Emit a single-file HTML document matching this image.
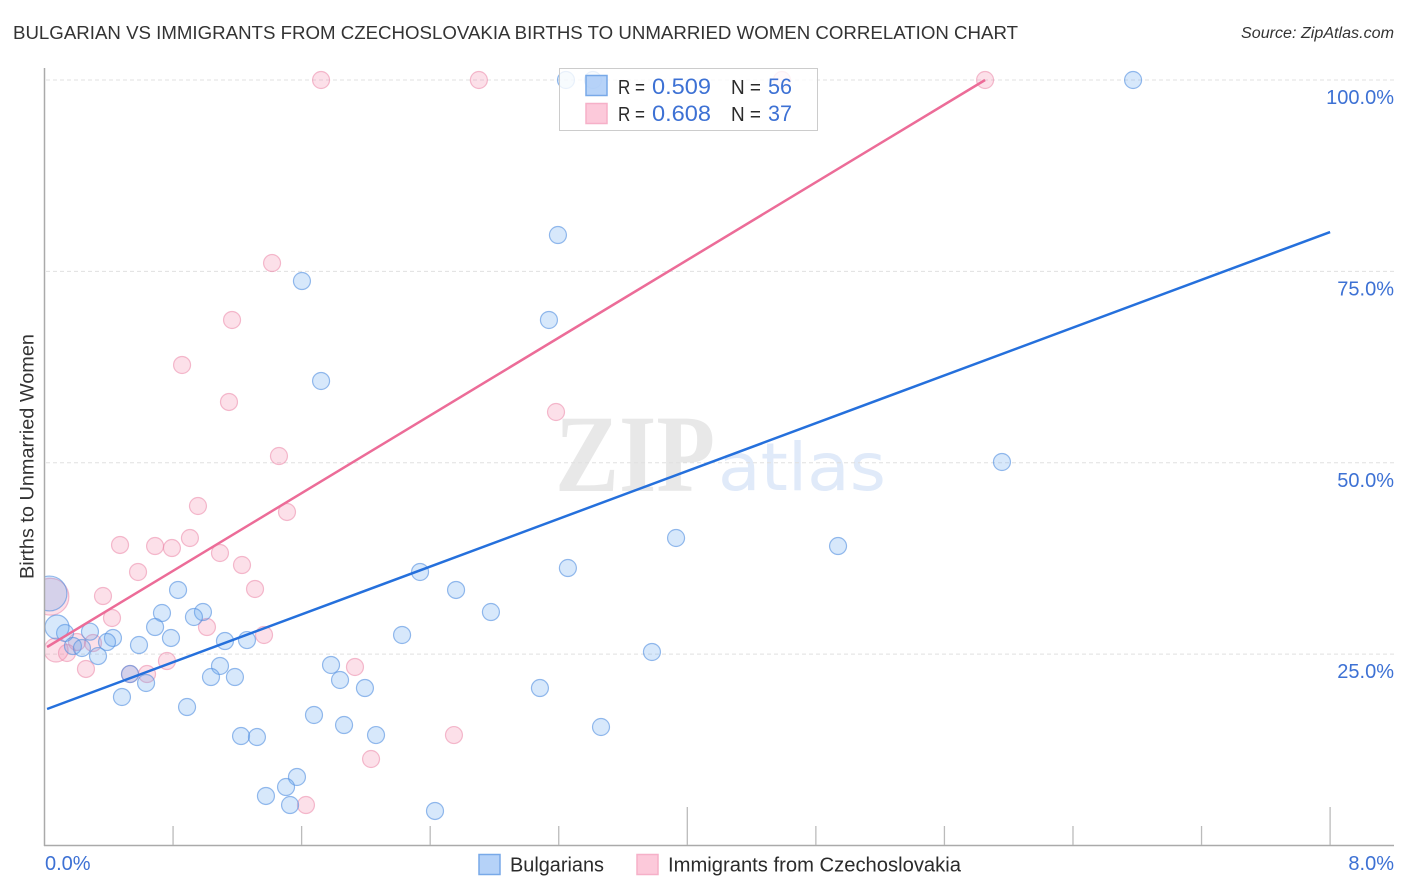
<!DOCTYPE html>
<html lang="en">
<head>
<meta charset="utf-8">
<title>Bulgarian vs Immigrants from Czechoslovakia Births to Unmarried Women Correlation Chart</title>
<style>
html,body{margin:0;padding:0;background:#fff;width:1406px;height:892px;overflow:hidden}
svg{display:block}
text{font-family:"Liberation Sans",sans-serif}
.tick{font-size:20px;fill:#3d71d4}
.leg{font-size:20px;fill:#2b2b2b}
.val{font-size:22px;fill:#3d71d4}
</style>
</head>
<body>
<svg id="chart" width="1406" height="892" viewBox="0 0 1406 892" xmlns="http://www.w3.org/2000/svg">
  <text x="13" y="39" font-size="18.5" fill="#333" textLength="1005" lengthAdjust="spacingAndGlyphs">BULGARIAN VS IMMIGRANTS FROM CZECHOSLOVAKIA BIRTHS TO UNMARRIED WOMEN CORRELATION CHART</text>
  <text x="1241" y="38" font-size="15.5" font-style="italic" fill="#333" textLength="153" lengthAdjust="spacingAndGlyphs">Source: ZipAtlas.com</text>
  <g>
    <text x="555" y="491" style="font-family:'Liberation Serif',serif;font-weight:bold" font-size="110" fill="#e8e8e8" textLength="160" lengthAdjust="spacingAndGlyphs">ZIP</text>
    <text x="718" y="490" style="font-family:'DejaVu Sans',sans-serif" font-size="66" fill="#e0eaf9" textLength="168" lengthAdjust="spacingAndGlyphs">atlas</text>
  </g>
  <g id="grid"></g>
  <svg id="points" x="45" y="60" width="1349" height="785" viewBox="45 60 1349 785" overflow="hidden"></svg>
  <g id="trends"></g>
  <g id="axes"></g>
  <text transform="translate(33.5,579) rotate(-90)" font-size="19" fill="#333" textLength="245" lengthAdjust="spacingAndGlyphs">Births to Unmarried Women</text>
  <g>
    <rect x="559.5" y="68.5" width="258" height="62" fill="#fff" fill-opacity="0.8" stroke="#ccc" stroke-width="1"/>
    <rect x="586" y="75.5" width="21" height="20" fill="#a5c8f6" fill-opacity="0.8" stroke="#78a9e8" stroke-width="1.5"/>
    <rect x="586" y="103.5" width="21" height="20" fill="#fcc9da" stroke="#f6b0c8" stroke-width="1.5"/>
    <text class="leg" x="618" y="94" textLength="27" lengthAdjust="spacingAndGlyphs">R =</text>
    <text class="val" x="652" y="94" textLength="59" lengthAdjust="spacingAndGlyphs">0.509</text>
    <text class="leg" x="731" y="94" textLength="30" lengthAdjust="spacingAndGlyphs">N =</text>
    <text class="val" x="768" y="94" textLength="24" lengthAdjust="spacingAndGlyphs">56</text>
    <text class="leg" x="618" y="121" textLength="27" lengthAdjust="spacingAndGlyphs">R =</text>
    <text class="val" x="652" y="121" textLength="59" lengthAdjust="spacingAndGlyphs">0.608</text>
    <text class="leg" x="731" y="121" textLength="30" lengthAdjust="spacingAndGlyphs">N =</text>
    <text class="val" x="768" y="121" textLength="24" lengthAdjust="spacingAndGlyphs">37</text>
  </g>
  <g>
    <rect x="479" y="854.5" width="21" height="20" fill="#b5d2f8" stroke="#78a9e8" stroke-width="1.5"/>
    <text x="510" y="871.5" font-size="20" fill="#2b2b2b" textLength="94" lengthAdjust="spacingAndGlyphs">Bulgarians</text>
    <rect x="637" y="854.5" width="21" height="20" fill="#fcc9da" stroke="#f6b0c8" stroke-width="1.5"/>
    <text x="668" y="871.5" font-size="20" fill="#2b2b2b" textLength="293" lengthAdjust="spacingAndGlyphs">Immigrants from Czechoslovakia</text>
  </g>
</svg>
<script>
// Data (percent units)
const bulgariansX = [3.245,3.413,6.774,3.195,1.602,3.139,1.721,5.958,3.930,4.938,3.257,2.337,2.561,0.831,2.778,0.731,0.986,0.930,0.688,2.225,0.787,0.426,0.389,1.123,1.260,0.588,3.780,0.128,0.078,0.283,0.177,0.233,0.333,1.783,1.092,1.036,1.185,1.839,0.532,0.632,1.994,3.083,0.482,0.887,1.677,1.864,3.463,2.063,1.223,1.322,1.571,1.503,1.378,1.528,2.430,0.031];
const bulgariansY = [100,100,100,79.75,73.74,68.65,60.68,50.10,40.17,39.12,36.25,35.73,33.38,33.38,30.50,30.37,30.50,29.85,28.54,27.50,27.11,27.11,26.58,26.71,26.84,26.19,25.28,27.76,28.54,27.93,26.06,25.80,24.75,23.58,23.45,22.01,22.01,21.62,22.40,21.23,20.57,20.57,19.40,18.09,17.05,15.74,15.48,14.43,14.30,14.17,8.95,7.64,6.47,5.29,4.51,32.92];
const bulgariansWeight = [1,1,1,1,1,1,1,1,1,1,1,1,1,1,1,1,1,1,1,1,1,1,1,1,1,1,1,1,2,1,1,1,1,1,1,1,1,1,1,1,1,1,1,1,1,1,1,1,1,1,1,1,1,1,1,4.2];
const immigrantsX = [1.721,2.703,4.589,5.853,1.416,1.167,0.856,1.148,3.183,1.459,0.955,1.509,0.905,0.470,0.688,0.793,1.092,1.229,0.582,1.310,0.364,0.420,1.011,1.366,0.302,0.202,0.072,0.140,0.258,0.762,1.932,0.532,0.638,2.548,2.032,1.627,0.037];
const immigrantsY = [100,100,100,100,76.09,68.65,62.77,57.94,56.63,50.88,44.35,43.57,40.17,39.26,39.12,38.86,38.21,36.64,35.73,33.51,32.59,29.72,28.54,27.50,26.45,26.58,25.54,25.15,23.06,24.10,23.32,22.40,22.40,14.43,11.30,5.29,32.50];
const immigrantsWeight = [1,1,1,1,1,1,1,1,1,1,1,1,1,1,1,1,1,1,1,1,1,1,1,1,1,1,2,1,1,1,1,1,1,1,1,1,4.7];
const bulgariansTrendX = [0.016,8];
const bulgariansTrendY = [17.83,80.14];
const immigrantsTrendX = [0.016,5.853];
const immigrantsTrendY = [25.93,100];
const yTickValues = [25,50,75,100];
const yTickLabels = ["25.0%","50.0%","75.0%","100.0%"];
const xTickValues = [0,0.8,1.6,2.4,3.2,4,4.8,5.6,6.4,7.2,8];
const xEndLabels = ["0.0%","8.0%"];

const NS = "http://www.w3.org/2000/svg";
const xScale = v => 44.5 + v * 160.7;
const yScale = v => 845.5 - v * 7.655;
const rScale = w => 8.5 * Math.sqrt(w);

function mk(parent, tag, attrs, txt) {
  const el = document.createElementNS(NS, tag);
  for (const k in attrs) el.setAttribute(k, attrs[k]);
  if (txt !== undefined) el.textContent = txt;
  parent.appendChild(el);
  return el;
}

const grid = document.getElementById("grid");
yTickValues.forEach(v => {
  const ln = mk(grid, "line", {x1: 46, x2: 1394, y1: yScale(v), y2: yScale(v), stroke: "#e0e0e0", "stroke-width": 1, "stroke-dasharray": "4 3"});
  
  
});

const points = document.getElementById("points");
function drawSeries(xs, ys, ws, fill, stroke, name) {
  xs.forEach((x, i) => {
    const c = mk(points, "circle", {cx: xScale(x), cy: yScale(ys[i]), r: rScale(ws[i]), fill: fill, stroke: stroke, "stroke-width": 1.2});
    
    
  });
}
drawSeries(immigrantsX, immigrantsY, immigrantsWeight, "rgba(245,140,175,0.27)", "rgba(235,135,168,0.55)", "immigrants-point");
drawSeries(bulgariansX, bulgariansY, bulgariansWeight, "rgba(100,165,240,0.26)", "rgba(85,145,225,0.62)", "bulgarians-point");

const trends = document.getElementById("trends");
const pinkLine = mk(trends, "line", {x1: xScale(immigrantsTrendX[0]), y1: yScale(immigrantsTrendY[0]), x2: xScale(immigrantsTrendX[1]), y2: yScale(immigrantsTrendY[1]), stroke: "#ec6c98", "stroke-width": 2.5});


const blueLine = mk(trends, "line", {x1: xScale(bulgariansTrendX[0]), y1: yScale(bulgariansTrendY[0]), x2: xScale(bulgariansTrendX[1]), y2: yScale(bulgariansTrendY[1]), stroke: "#2570dc", "stroke-width": 2.5});



const axes = document.getElementById("axes");
const yAxis = mk(axes, "line", {x1: 44.5, x2: 44.5, y1: 68, y2: 846, stroke: "#aaa", "stroke-width": 1.5});


const xAxis = mk(axes, "line", {x1: 44, x2: 1394, y1: 845.5, y2: 845.5, stroke: "#aaa", "stroke-width": 1.5});



xTickValues.forEach((v, i) => {
  if (i === 0) return;
  const top = i % 5 === 0 ? 807 : 826;
  const t = mk(axes, "line", {x1: xScale(v), x2: xScale(v), y1: top, y2: 845, stroke: "#bbb", "stroke-width": 1.3});
  
  
});

yTickValues.forEach((v, i) => {
  const lab = mk(axes, "text", {x: 1394, y: yScale(v) + 24, "text-anchor": "end", class: "tick"}, yTickLabels[i]);
  
  
});

const xStart = mk(axes, "text", {x: xScale(xTickValues[0]) + 0.5, y: 870, class: "tick"}, xEndLabels[0]);


const xEnd = mk(axes, "text", {x: 1394, y: 870, "text-anchor": "end", class: "tick"}, xEndLabels[1]);


</script>
</body>
</html>
